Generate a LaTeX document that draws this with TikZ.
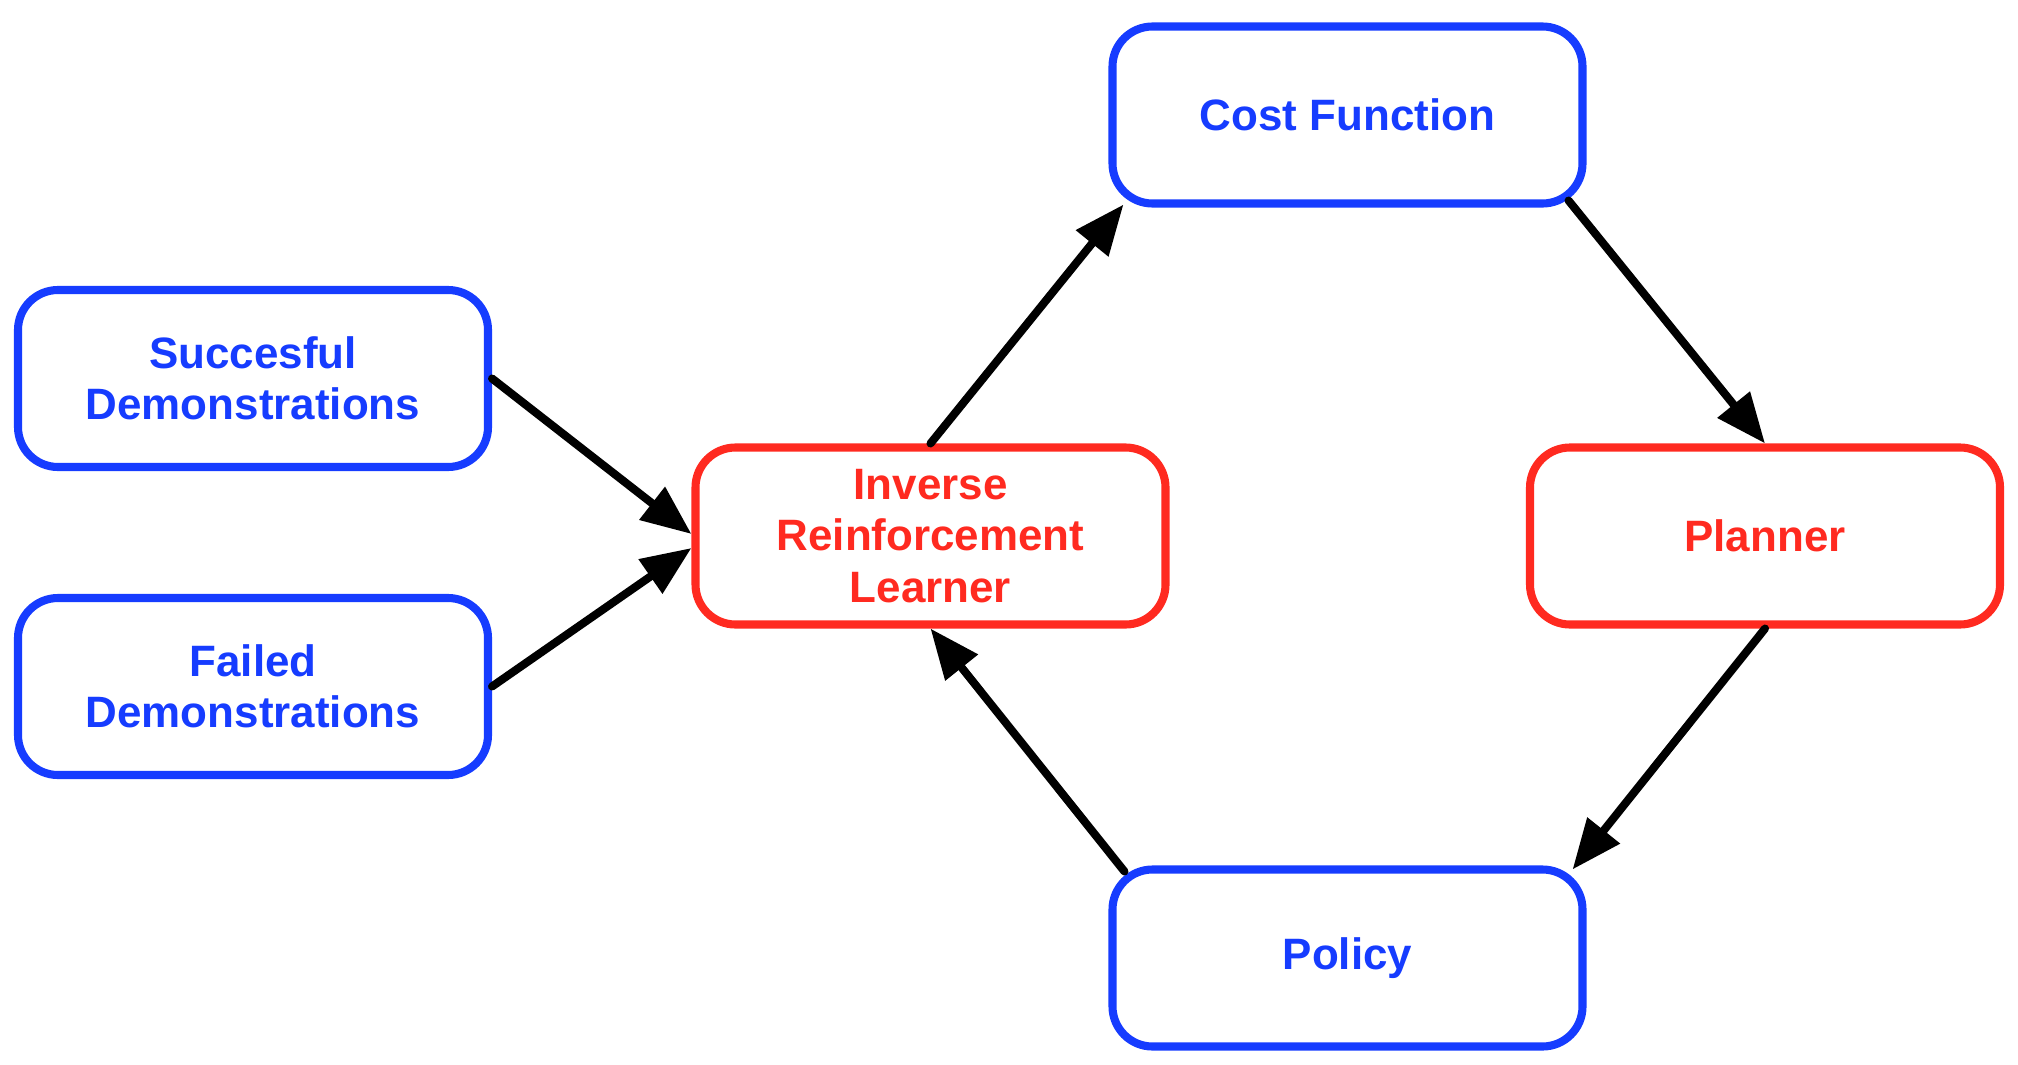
\documentclass[tikz,border=0pt]{standalone}
\usepackage{fontspec}
\setmainfont{Liberation Sans}
\usepackage{tikz}
\usetikzlibrary{positioning,arrows.meta}
\definecolor{boxblue}{RGB}{22,60,255}
\definecolor{boxred}{RGB}{255,42,32}

\begin{document}
\begin{tikzpicture}[
  box/.style={rectangle,rounded corners=0.4cm,line width=2.3pt,minimum width=4.70cm,minimum height=1.77cm,
    align=center,font=\fontsize{12.5}{14.6}\selectfont\bfseries,fill=white},
  bluebox/.style={box,draw=boxblue,text=boxblue},
  redbox/.style={box,draw=boxred,text=boxred},
  arr/.style={-{Triangle[length=5mm,width=4mm]},line width=2.3pt,line cap=round}]
\useasboundingbox (0,0) rectangle (20.18,10.64);
\path
(9.305,5.28) node[redbox] (irl) {Inverse\\Reinforcement\\Learner}
+(-6.775,1.575)  node[bluebox] (succ) {Succesful\\Demonstrations}
+(-6.775,-1.505) node[bluebox] (fail) {Failed\\Demonstrations}
+(4.17,4.21)   node[bluebox] (cost) {Cost Function}
+(8.345,0)     node[redbox]  (plan) {Planner}
+(4.17,-4.22)  node[bluebox] (pol)  {Policy};

\draw[arr] (succ.east)--([yshift=0.02cm]irl.west);
\draw[arr] (fail.east)--([yshift=-0.12cm]irl.west);
\draw[arr] (irl.north)--([xshift=0.15cm,yshift=0.03cm]cost.south west);
\draw[arr] ([xshift=-0.18cm,yshift=0.07cm]cost.south east)--(plan.north);
\draw[arr] (plan.south)--([xshift=-0.14cm,yshift=-0.04cm]pol.north east);
\draw[arr] ([xshift=0.16cm,yshift=-0.06cm]pol.north west)--(irl.south);
\end{tikzpicture}
\end{document}
